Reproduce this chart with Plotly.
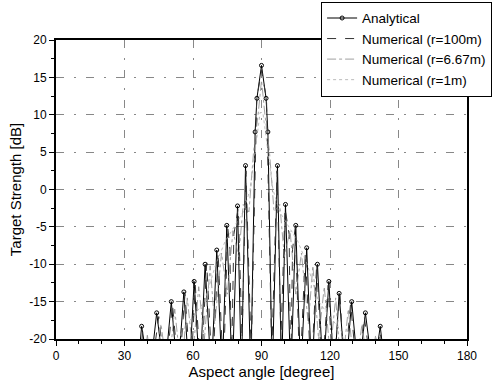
import plotly.graph_objects as go

# ---- data ----
ang_analytical = [35.5, 37.5, 41, 44.1, 47.5, 50.5, 53.3, 56, 58.3, 60.5, 63, 65.3, 68, 70.4, 72.8, 74.8,
                  77.2, 79.5, 81.2, 83, 85.3, 87.2, 88, 90, 92, 92.8, 94.7, 97, 98.8, 100.5, 102.8, 105,
                  107.2, 109.8, 112, 114.5, 117, 119.5, 121.8, 124, 126.7, 129.5, 132.5, 135.5, 139, 142, 144.5]
ts_analytical = [-25, -18.3, -25, -16.5, -25, -15.0, -25, -13.7, -25, -12.3, -25, -10.0, -25, -8.1, -25, -4.8,
                 -25, -2.2, -25, 3.2, -25, 7.7, 12.2, 16.6, 12.2, 7.7, -25, 3.2, -25, -2.0, -25, -4.8,
                 -25, -7.8, -25, -10.0, -25, -12.3, -25, -13.9, -25, -15.0, -25, -16.5, -25, -18.3, -25]

ang_r100 = [36, 38, 41.5, 45, 48, 51, 53.8, 56.5, 59, 61, 63.5, 66, 68.5, 71, 73.3, 75.2, 76.2, 76.8, 77.9,
            79.8, 81.5, 83.2, 85.5, 87.9, 90, 92.2, 94.5, 96.8, 98.5, 100.3, 102.1, 102.8, 103.6, 104.8,
            106.8, 109.2, 111.7, 114.2, 116.5, 119.2, 121.3, 124.4, 126.2, 129, 132, 135, 138.5, 142, 144]
ts_r100 = [-25, -19, -25, -17, -25, -15.3, -25, -14, -25, -12.8, -25, -9.8, -25, -8.4, -25, -5, -8, -25, -6,
           -2.5, -20, 2.5, -22, 12.1, 16, 12.1, -22, 2.5, -20, -2.5, -6, -25, -8, -5,
           -25, -8.4, -25, -9.8, -25, -12.8, -25, -14, -25, -15.3, -25, -17, -25, -19, -25]

ang_r667 = [38, 40, 43, 46, 49, 52, 55, 57.5, 60, 62.5, 65, 67.5, 69.5, 72.5, 75, 77.5, 80, 82, 84.5,
            86.5, 88.5, 90, 91.5, 93.5, 95.5, 98, 100, 102.5, 105, 107.5, 110.5, 112.5, 115, 117.5, 120,
            122.5, 125, 128, 131, 134, 137, 140, 142]
ts_r667 = [-25, -19.5, -25, -18, -25, -16, -25, -14.5, -22, -13, -20, -10.2, -18, -8.5, -14, -5.5, -9, -2, -3,
           5, 10, 14.6, 10, 5, -3, -2, -9, -5.5, -14, -8.5, -18, -10.2, -20, -13, -22,
           -14.5, -25, -16, -25, -18, -25, -19.5, -25]

ang_r1 = [50, 55, 60, 65, 70, 74, 78, 82, 85, 87, 89.4, 90.6, 93, 95, 98, 102, 106, 110, 115, 120, 125, 130]
ts_r1 = [-25, -19, -17, -15, -10, -7, -5, -3, 0, 5, 10.3, 10.3, 5, 0, -3, -5, -7, -10, -15, -17, -19, -25]

x_ticks = [0, 30, 60, 90, 120, 150, 180]
y_ticks = [-20, -15, -10, -5, 0, 5, 10, 15, 20]

fig = go.Figure()
fig.add_trace(go.Scatter(x=ang_analytical, y=ts_analytical, mode="lines+markers", name="Analytical",
                         line=dict(color="black", width=1),
                         marker=dict(symbol="circle-open", size=4, color="black", line=dict(width=1))))
fig.add_trace(go.Scatter(x=ang_r100, y=ts_r100, mode="lines", name="Numerical (r=100m)",
                         line=dict(color="#333333", width=1, dash="dash")))
fig.add_trace(go.Scatter(x=ang_r667, y=ts_r667, mode="lines", name="Numerical (r=6.67m)",
                         line=dict(color="#888888", width=0.8, dash="dashdot")))
fig.add_trace(go.Scatter(x=ang_r1, y=ts_r1, mode="lines", name="Numerical (r=1m)",
                         line=dict(color="#aaaaaa", width=0.8, dash="dot")))

grid_dash = "8px,10px,2px,10px"
fig.update_layout(
    width=499, height=391,
    margin=dict(l=56, r=32, t=40, b=52, autoexpand=False),
    paper_bgcolor="white", plot_bgcolor="white",
    font=dict(family="Arial, Liberation Sans, sans-serif", size=12, color="black"),
    showlegend=True,
    legend=dict(x=0.645, y=1.128, xanchor="left", yanchor="top",
                bgcolor="white", bordercolor="black", borderwidth=1,
                font=dict(size=13.5, color="black"), tracegroupgap=0),
    xaxis=dict(range=[0, 180], tickvals=x_ticks, ticktext=[str(v) for v in x_ticks],
               showline=True, linecolor="black", linewidth=2, mirror=True,
               ticks="outside", ticklen=5, tickcolor="black",
               minor=dict(dtick=10, ticks="outside", ticklen=3, tickcolor="black", showgrid=False),
               showgrid=True, gridcolor="#888888", gridwidth=1, griddash=grid_dash,
               zeroline=False,
               title=dict(text="Aspect angle [degree]", font=dict(size=15), standoff=0)),
    yaxis=dict(range=[-20, 20], tickvals=y_ticks, ticktext=[str(v) for v in y_ticks],
               showline=True, linecolor="black", linewidth=2, mirror=True,
               ticks="outside", ticklen=5, tickcolor="black",
               minor=dict(dtick=2.5, ticks="outside", ticklen=3, tickcolor="black", showgrid=False),
               showgrid=True, gridcolor="#888888", gridwidth=1, griddash=grid_dash,
               zeroline=False,
               title=dict(text="Target Strength [dB]", font=dict(size=15), standoff=4)),
)

fig.write_html("out.html", config={"displayModeBar": False},
               post_script="document.body.style.margin='0';")
